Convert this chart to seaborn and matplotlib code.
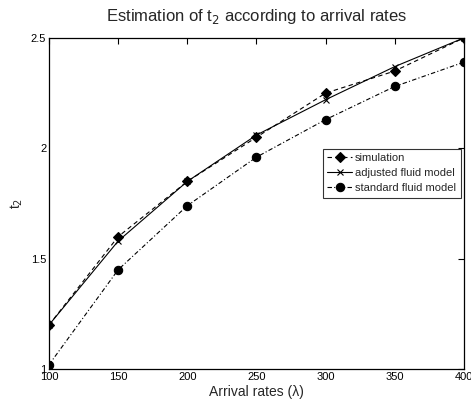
import matplotlib
matplotlib.use("Agg")
import matplotlib.pyplot as plt
import seaborn as sns
import pandas as pd

rates = [100, 150, 200, 250, 300, 350, 400]
simulation = [1.20, 1.60, 1.85, 2.05, 2.25, 2.35, 2.50]
adjusted = [1.20, 1.58, 1.85, 2.06, 2.22, 2.37, 2.50]
standard = [1.02, 1.45, 1.74, 1.96, 2.13, 2.28, 2.39]
xticks = [100, 150, 200, 250, 300, 350, 400]
yticks = [1, 1.5, 2, 2.5]

sns.set_style("white")
plt.rcParams['font.family'] = ['Liberation Sans', 'DejaVu Sans']

fig = plt.figure(figsize=(4.71, 4.03), dpi=100)
ax = fig.add_axes([0.104, 0.084, 0.881, 0.822])

df = pd.DataFrame({"rate": rates, "simulation": simulation,
                   "adjusted": adjusted, "standard": standard})

sns.lineplot(data=df, x="rate", y="simulation", ax=ax, color="black",
             linestyle=(0, (4, 3)), linewidth=0.8, marker="D", markersize=4.8,
             markeredgewidth=0.8, markeredgecolor="black", label="simulation")
sns.lineplot(data=df, x="rate", y="adjusted", ax=ax, color="black",
             linestyle="-", linewidth=0.8, marker="x", markersize=4,
             markeredgewidth=0.8, markeredgecolor="black",
             label="adjusted fluid model")
sns.lineplot(data=df, x="rate", y="standard", ax=ax, color="black",
             linestyle=(0, (4, 2, 1, 2)), linewidth=0.8, marker="o", markersize=6,
             markeredgewidth=0.8, markeredgecolor="black",
             label="standard fluid model")

ax.set_xlim(100, 400)
ax.set_ylim(1, 2.5)
ax.set_xticks(xticks)
ax.set_yticks(yticks)
ax.set_yticklabels(["1", "1.5", "2", "2.5"])
ax.tick_params(direction="in", length=4, width=0.8, labelsize=8, top=True,
               right=True, pad=2, colors="black")
for s in ax.spines.values():
    s.set_visible(True)
    s.set_color("black")
    s.set_linewidth(0.9)

ax.set_title("Estimation of t$_2$ according to arrival rates", fontsize=12, pad=12)
ax.set_xlabel("Arrival rates (λ)", fontsize=10, labelpad=2)
ax.set_ylabel("t$_2$", fontsize=10, labelpad=4)

leg = ax.legend(loc="upper left", bbox_to_anchor=(0.66, 0.665), fontsize=8,
                frameon=True, fancybox=False, edgecolor="black",
                handlelength=2.2, borderpad=0.4, labelspacing=0.45,
                handletextpad=0.3, borderaxespad=0)
leg.get_frame().set_linewidth(0.8)

fig.savefig("out.png", dpi=100)
